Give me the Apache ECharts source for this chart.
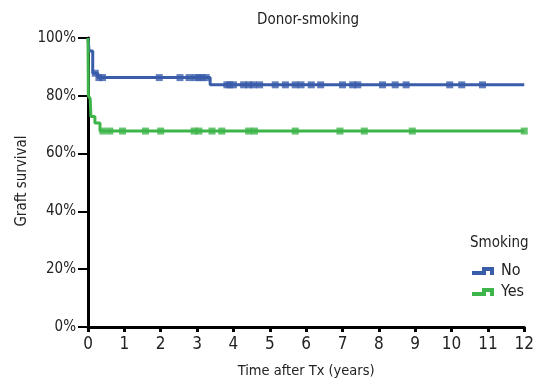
<!DOCTYPE html>
<html>
<head>
<meta charset="utf-8">
<script src="https://cdn.jsdelivr.net/npm/echarts@6/dist/echarts.min.js"></script>
<style>
  html, body { margin: 0; padding: 0; background: #fff; }
  #chart { width: 537px; height: 384px; }
</style>
</head>
<body>
<div id="chart"></div>
<script>
// Kaplan-Meier graft survival by donor smoking status
const title = 'Donor-smoking';
const xTicks = [0, 1, 2, 3, 4, 5, 6, 7, 8, 9, 10, 11, 12];
const yTicks = [0, 20, 40, 60, 80, 100];

// step points: [time in years, survival %]
const noSteps = [[0, 100], [0.03, 95.5], [0.13, 87.8], [0.27, 86.3], [3.36, 83.8], [12, 83.8]];
const yesSteps = [[0, 100], [0.01, 80], [0.06, 79], [0.08, 72.8], [0.19, 70.6], [0.33, 67.8], [12, 67.8]];

// censored observations (years)
const noCensor = [0.2, 0.3, 0.4, 1.96, 2.53, 2.78, 2.95, 3.05, 3.14, 3.25,
  3.82, 3.9, 4.0, 4.28, 4.42, 4.55, 4.72, 5.15, 5.43, 5.7, 5.86, 6.14, 6.4,
  7.0, 7.28, 7.42, 8.1, 8.45, 8.75, 9.95, 10.28, 10.85];
const yesCensor = [0.41, 0.6, 0.95, 1.58, 2.0, 2.92, 3.05, 3.41, 3.68, 4.42,
  4.58, 5.7, 6.93, 7.6, 8.92, 12];

const blue = '#3a5daa';
const green = '#3db54b';
const FONT = "'DejaVu Sans Condensed', 'Liberation Sans Narrow', sans-serif";
const TXT = '#222';

// survival level of a step curve at time t
function levelAt(steps, t) {
  let v = steps[0][1];
  for (const [x, y] of steps) { if (x <= t) v = y; }
  return v;
}

const stepIcon = 'path://M0,4 H10 V0 H22 V8 H18 V4 H14 V8 H0 Z';

const chart = echarts.init(document.getElementById('chart'), null, { renderer: 'canvas' });
chart.setOption({
  animation: false,
  title: {
    text: title, left: 303, top: 8, textAlign: 'center',
    textStyle: { fontFamily: FONT, fontSize: 15, fontWeight: 'normal', color: TXT }
  },
  grid: { left: 88, right: 9, top: 38, bottom: 56 },
  xAxis: {
    type: 'value', min: 0, max: 12, interval: 1,
    name: 'Time after Tx (years)', nameLocation: 'middle', nameGap: 37,
    nameTextStyle: { fontFamily: FONT, fontSize: 14.5, color: TXT },
    axisLine: { lineStyle: { color: '#000', width: 3 } },
    axisTick: { length: 5, lineStyle: { color: '#000', width: 3 } },
    axisLabel: { fontFamily: FONT, fontSize: 17, color: TXT, margin: 9,
      formatter: v => xTicks.includes(v) ? String(v) : '' },
    splitLine: { show: false }
  },
  yAxis: {
    type: 'value', min: 0, max: 100, interval: 20,
    axisLine: { show: true, lineStyle: { color: '#000', width: 3 } },
    axisTick: { show: true, length: 10, lineStyle: { color: '#000', width: 2 } },
    axisLabel: { fontFamily: FONT, fontSize: 15, color: TXT, margin: 12,
      formatter: v => yTicks.includes(v) ? v + '%' : '' },
    splitLine: { show: false }
  },
  legend: {
    orient: 'vertical', left: 467, top: 258, itemGap: 5,
    itemWidth: 22, itemHeight: 8,
    data: [
      { name: 'No', icon: stepIcon },
      { name: 'Yes', icon: stepIcon }
    ],
    textStyle: { fontFamily: FONT, fontSize: 16, color: TXT, padding: [0, 0, 0, 2] }
  },
  graphic: [
    {
      type: 'text', left: 470, top: 236,
      style: { text: 'Smoking', font: "15px " + FONT, fill: TXT }
    },
    {
      type: 'text', x: 22, y: 181, rotation: Math.PI / 2,
      style: { text: 'Graft survival', font: "15px " + FONT, fill: TXT,
        align: 'center', verticalAlign: 'middle' }
    }
  ],
  series: [
    {
      name: 'No', type: 'line', step: 'end', data: noSteps,
      showSymbol: false, color: blue, lineStyle: { width: 3, color: blue }, z: 3
    },
    {
      name: 'Yes', type: 'line', step: 'end', data: yesSteps,
      showSymbol: false, color: green, lineStyle: { width: 3, color: green }, z: 4
    },
    {
      name: 'No censored', type: 'scatter', symbol: 'rect', symbolSize: [7, 7],
      itemStyle: { color: blue }, z: 3,
      data: noCensor.map(t => [t, levelAt(noSteps, t)])
    },
    {
      name: 'Yes censored', type: 'scatter', symbol: 'rect', symbolSize: [7, 7],
      itemStyle: { color: green }, z: 4,
      data: yesCensor.map(t => [t, levelAt(yesSteps, t)])
    }
  ]
});
</script>
</body>
</html>
